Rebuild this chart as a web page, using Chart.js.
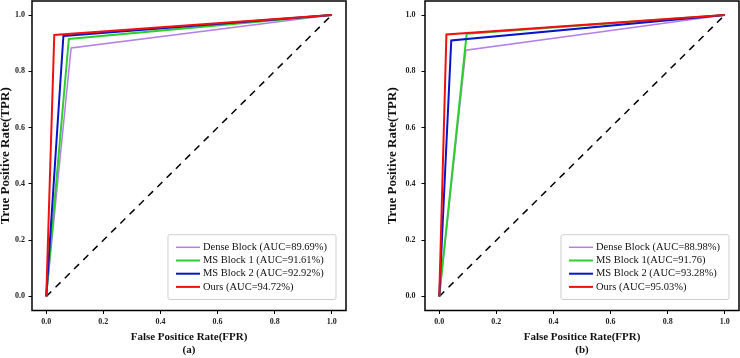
<!DOCTYPE html>
<html lang="en">
<head>
<meta charset="UTF-8">
<title>ROC curves</title>
<script src="https://cdn.jsdelivr.net/npm/chart.js"></script>
<style>
  body { margin: 0; background: #fff; }
  #wrap { position: relative; width: 740px; height: 358px; }
  canvas { position: absolute; top: 0; }
  #rocA { left: 0; }
  #rocB { left: 370px; }
</style>
</head>
<body>
<div id="wrap">
  <canvas id="rocA" width="370" height="358"></canvas>
  <canvas id="rocB" width="370" height="358"></canvas>
</div>
<script>
// axis ticks
const tickValues = [0, 0.2, 0.4, 0.6, 0.8, 1.0];
const tickLabels = ['0.0', '0.2', '0.4', '0.6', '0.8', '1.0'];

const seriesColors = ['#b57ee8', '#2ccf2c', '#0a14c8', '#f01010'];
const seriesWidths = [1.5, 2, 2, 2];

// panel (a)
const labelsA = ['Dense Block (AUC=89.69%)', 'MS Block 1 (AUC=91.61%)', 'MS Block 2 (AUC=92.92%)', 'Ours (AUC=94.72%)'];
const fprA = [
  [0, 0.087, 1],
  [0, 0.079, 1],
  [0, 0.060, 1],
  [0, 0.028, 1]
];
const tprA = [
  [0, 0.883, 1],
  [0, 0.915, 1],
  [0, 0.926, 1],
  [0, 0.929, 1]
];

// panel (b)
const labelsB = ['Dense Block (AUC=88.98%)', 'MS Block 1(AUC=91.76)', 'MS Block 2 (AUC=93.28%)', 'Ours (AUC=95.03%)'];
const fprB = [
  [0, 0.093, 1],
  [0, 0.096, 1],
  [0, 0.042, 1],
  [0, 0.025, 1]
];
const tprB = [
  [0, 0.875, 1],
  [0, 0.934, 1],
  [0, 0.910, 1],
  [0, 0.931, 1]
];

// chance line
const chanceX = [0, 1];
const chanceY = [0, 1];

const serif = '"Liberation Serif", "Times New Roman", serif';
const tickFont = { family: serif, size: 8, weight: 'bold' };
const xTitleFont = { family: serif, size: 11, weight: 'bold', lineHeight: 1.2 };
const yTitleFont = { family: serif, size: 13, weight: 'bold', lineHeight: 0.9 };

function toPoints(xs, ys) {
  return xs.map((x, i) => ({ x: x, y: ys[i] }));
}

function buildDatasets(labels, fpr, tpr) {
  const sets = labels.map((label, i) => ({
    label: label,
    data: toPoints(fpr[i], tpr[i]),
    borderColor: seriesColors[i],
    borderWidth: seriesWidths[i],
    pointRadius: 0,
    tension: 0,
    order: 3 - i
  }));
  sets.push({
    data: toPoints(chanceX, chanceY),
    borderColor: '#000',
    borderWidth: 1.5,
    borderDash: [7, 6],
    pointRadius: 0,
    order: 4
  });
  return sets;
}

// frame round the plot area + legend box in lower right
const framePlugin = {
  id: 'frameAndLegend',
  afterDraw(chart) {
    const ctx = chart.ctx;
    const a = chart.chartArea;
    ctx.save();
    ctx.strokeStyle = '#000';
    ctx.lineWidth = 1.5;
    ctx.strokeRect(a.left, a.top, a.right - a.left, a.bottom - a.top);

    const items = chart.data.datasets.filter(d => d.label);
    ctx.font = '10.5px ' + serif;
    let maxW = 0;
    items.forEach(d => { maxW = Math.max(maxW, ctx.measureText(d.label).width); });
    const rowH = 13.2;
    const boxW = 8 + 24 + 3 + maxW + 9;
    const boxH = 12 + rowH * items.length;
    const bx = a.right - 10 - boxW;
    const by = a.bottom - 11 - boxH;

    ctx.fillStyle = 'rgba(255,255,255,0.85)';
    ctx.strokeStyle = '#cfcfcf';
    ctx.lineWidth = 1;
    ctx.beginPath();
    const r = 2;
    ctx.moveTo(bx + r, by);
    ctx.lineTo(bx + boxW - r, by);
    ctx.quadraticCurveTo(bx + boxW, by, bx + boxW, by + r);
    ctx.lineTo(bx + boxW, by + boxH - r);
    ctx.quadraticCurveTo(bx + boxW, by + boxH, bx + boxW - r, by + boxH);
    ctx.lineTo(bx + r, by + boxH);
    ctx.quadraticCurveTo(bx, by + boxH, bx, by + boxH - r);
    ctx.lineTo(bx, by + r);
    ctx.quadraticCurveTo(bx, by, bx + r, by);
    ctx.closePath();
    ctx.fill();
    ctx.stroke();

    ctx.textBaseline = 'middle';
    items.forEach((d, i) => {
      const yy = by + 6 + rowH * (i + 0.5);
      ctx.strokeStyle = d.borderColor;
      ctx.lineWidth = d.borderWidth;
      ctx.beginPath();
      ctx.moveTo(bx + 8, yy);
      ctx.lineTo(bx + 32, yy);
      ctx.stroke();
      ctx.fillStyle = '#111';
      ctx.fillText(d.label, bx + 35, yy);
    });
    ctx.restore();
  }
};

function makeChart(id, datasets, panelTag, yWidth, yTitlePad, rightPad, yTickPad) {
  return new Chart(document.getElementById(id), {
    type: 'line',
    data: { datasets: datasets },
    options: {
      responsive: false,
      animation: false,
      devicePixelRatio: 1,
      layout: { padding: { left: 0, top: 1, right: rightPad, bottom: 0 } },
      plugins: { legend: { display: false }, tooltip: { enabled: false } },
      scales: {
        x: {
          type: 'linear',
          position: 'bottom',
          min: -0.05,
          max: 1.05,
          afterBuildTicks: s => { s.ticks = tickValues.map(v => ({ value: v })); },
          afterFit: s => { s.height = 47.5; s.paddingLeft = 0; s.paddingRight = 0; },
          ticks: {
            callback: (v, i) => tickLabels[i],
            autoSkip: false,
            maxRotation: 0,
            color: '#222',
            font: tickFont,
            padding: 3
          },
          grid: { drawOnChartArea: false, tickLength: 3.5, tickColor: '#000', tickWidth: 1 },
          border: { display: false },
          title: {
            display: true,
            text: ['False Positice Rate(FPR)', panelTag],
            color: '#111',
            font: xTitleFont,
            padding: { top: 0, bottom: 1.4 }
          }
        },
        y: {
          type: 'linear',
          min: -0.05,
          max: 1.05,
          afterBuildTicks: s => { s.ticks = tickValues.map(v => ({ value: v })); },
          afterFit: s => { s.width = yWidth; s.paddingTop = 0; s.paddingBottom = 0; },
          ticks: {
            callback: (v, i) => tickLabels[i],
            autoSkip: false,
            color: '#222',
            font: tickFont,
            padding: yTickPad
          },
          grid: { drawOnChartArea: false, tickLength: 3.5, tickColor: '#000', tickWidth: 1 },
          border: { display: false },
          title: {
            display: true,
            text: 'True Positive Rate(TPR)',
            color: '#111',
            font: yTitleFont,
            padding: { top: yTitlePad, bottom: 0 }
          }
        }
      }
    },
    plugins: [framePlugin]
  });
}

makeChart('rocA', buildDatasets(labelsA, fprA, tprA), '(a)', 32, 0, 24, 3.5);
makeChart('rocB', buildDatasets(labelsB, fprB, tprB), '(b)', 55, 16.5, 1, 6);
</script>
</body>
</html>
